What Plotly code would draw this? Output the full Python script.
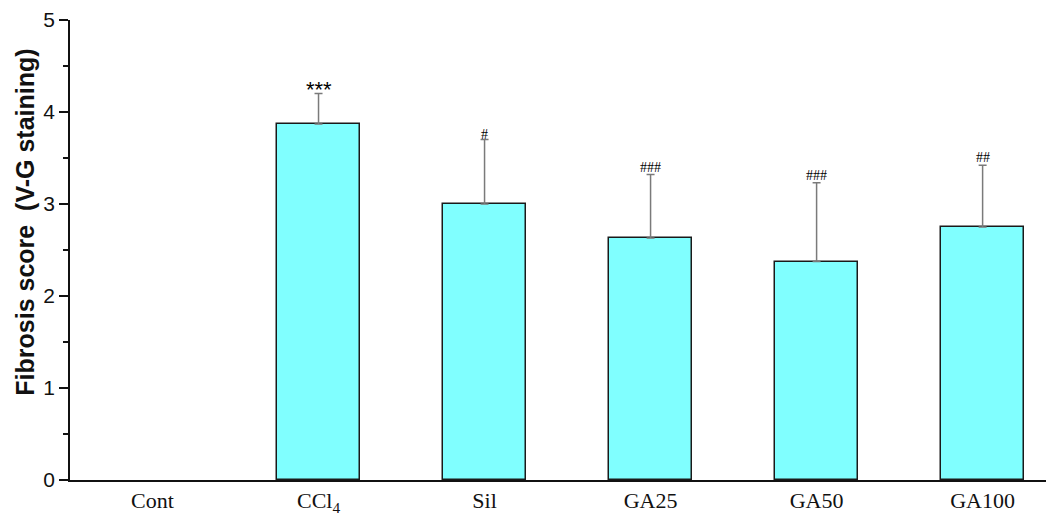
import plotly.graph_objects as go

categories = ["Cont", "CCl<sub>4</sub>", "Sil", "GA25", "GA50", "GA100"]
means = [0, 3.87, 3.0, 2.63, 2.375, 2.75]
errors = [0, 0.33, 0.70, 0.69, 0.855, 0.67]
marks = ["", "***", "#", "###", "###", "##"]

x = list(range(len(categories)))

fig = go.Figure()
# error bars drawn first so bar outlines cover the lower caps
fig.add_trace(go.Scatter(
    x=x[1:], y=means[1:], mode="markers", marker=dict(size=0.1, opacity=0),
    error_y=dict(type="data", array=errors[1:], arrayminus=[0]*(len(errors)-1), symmetric=False,
                 color="#7a7a7a", thickness=1.5, width=4),
    showlegend=False, hoverinfo="skip",
))
fig.add_trace(go.Bar(
    x=x, y=means, width=0.5,
    marker=dict(color="#80FFFF", line=dict(color="#1a1a1a", width=[0 if m == 0 else 1.5 for m in means])),
    showlegend=False,
))

for xi, m, e, s in zip(x, means, errors, marks):
    if s:
        star = s.startswith("*")
        fig.add_annotation(x=xi, y=m + e, text=s, showarrow=False, yanchor="bottom",
                           yshift=-10 if star else (-4 if s == "#" else -2),
                           font=dict(family="Liberation Sans" if star else "Liberation Serif",
                                     size=22 if star else 14, color="#000"))

fig.add_annotation(xref="paper", yref="paper", x=-0.046, y=0.561,
                   text="<b>Fibrosis score &nbsp;(V-G staining)</b>",
                   textangle=-90, showarrow=False, xanchor="center", yanchor="middle",
                   font=dict(family="Liberation Sans", size=25, color="#111"))

fig.update_layout(
    width=1054, height=522, plot_bgcolor="white", paper_bgcolor="white",
    margin=dict(l=62, r=8, t=12, b=50), bargap=0,
    xaxis=dict(range=[-0.497, 5.43], tickvals=x, ticktext=categories, showline=True, linecolor="#111",
               linewidth=1.5, ticks="", showgrid=False, zeroline=False, automargin=False,
               tickfont=dict(family="Liberation Serif", size=22, color="#111")),
    yaxis=dict(range=[0, 5], tickvals=[0, 1, 2, 3, 4, 5], showline=True, linecolor="#111", linewidth=1.5,
               ticks="outside", ticklen=9, tickwidth=1.5, tickcolor="#111", showgrid=False, zeroline=False,
               automargin=False,
               tickfont=dict(family="Liberation Sans", size=21, color="#111"),
               minor=dict(tickvals=[0.5, 1.5, 2.5, 3.5, 4.5], ticks="outside", ticklen=5, tickwidth=1.5,
                          tickcolor="#111")),
)

fig.write_html("out.html")
